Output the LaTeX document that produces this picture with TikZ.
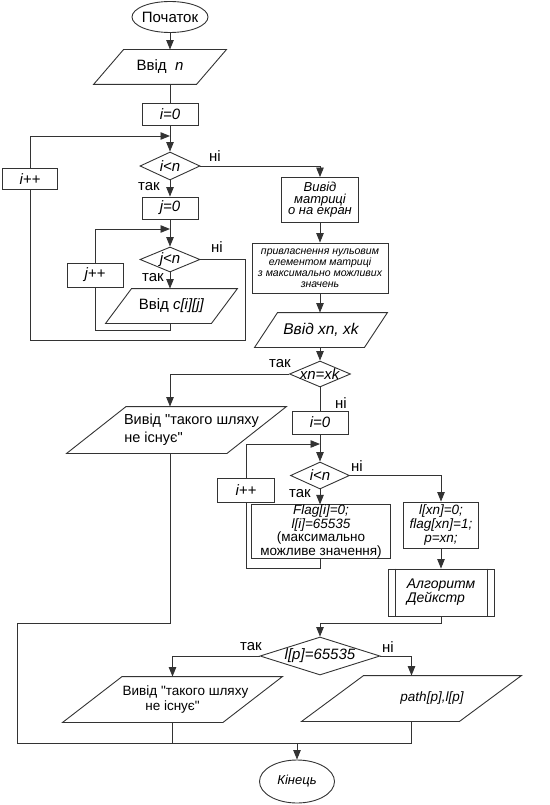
\documentclass[tikz,border=0pt]{standalone}
\usepackage{fontspec}
\setmainfont{Liberation Sans}
\usepackage{tikz}
\usetikzlibrary{arrows.meta, positioning, calc, shapes.geometric}

\newcommand{\ztxt}[1]{\makebox[0pt]{#1}}
\newcommand{\ioframe}[2]{\draw ([xshift=#2]#1.north west) -- (#1.north east) -- ([xshift=-#2]#1.south east) -- (#1.south west) -- cycle;}

\begin{document}
\begin{tikzpicture}[x=1pt, y=-1pt, line width=0.9pt, draw=black!80,
        every node/.style={draw, inner sep=0pt, align=center, font=\fontsize{15}{17}\selectfont},
        term/.style={ellipse},
        box/.style={rectangle},
        io/.style={rectangle, draw=none},
        cond/.style={diamond},
        lbl/.style={draw=none, fill=none},
        arr/.style={-{Triangle[length=9.5pt, width=7.5pt]}}]
        \useasboundingbox (0,0) rectangle (549,805);

        % Define nodes of the first loops
        \node[term, minimum width=76, minimum height=31] (start) at (170,17) {\ztxt{Початок}};
        \node[io, minimum width=132, minimum height=34] (inN) at (160,67) {Ввід~~\textit{n}};
        \ioframe{inN}{30}
        \node[box, minimum width=56, minimum height=22] (iZero) at (170,114) {\textit{i=0}};
        \node[cond, minimum width=60, minimum height=28] (iLess) at (170,166) {\ztxt{\textit{i<n}}};
        \node[box, minimum width=55, minimum height=21] (iInc) at (30,179) {\textit{i++}};
        \node[box, minimum width=56, minimum height=22] (jZero) at (170,208) {\textit{j=0}};
        \node[cond, minimum width=60, minimum height=25] (jLess) at (170,259.5) {\ztxt{\textit{j<n}}};
        \node[box, minimum width=56, minimum height=24] (jInc) at (95,275) {\textit{j++}};
        \node[io, minimum width=131, minimum height=34] (inC) at (171.5,306) {Ввід \textit{c[i][j]}};
        \ioframe{inC}{26}

        % Define nodes on the right side
        \node[box, minimum width=77, minimum height=45, font=\fontsize{13}{11.5}\selectfont\itshape] (outMat) at (320,200) {Вивід\\матриці\\о на екран};
        \node[box, minimum width=136, minimum height=50, font=\fontsize{10.5}{11}\selectfont\itshape] (initMat) at (320,268) {привласнення нульовим\\елементом матриці\\з максимально можливих\\значень};
        \node[io, minimum width=132, minimum height=34, font=\fontsize{15.5}{17}\selectfont\itshape] (inXY) at (321,330) {Ввід xn, xk};
        \ioframe{inXY}{23}
        \node[cond, minimum width=61, minimum height=26] (xyEq) at (320,374) {\ztxt{\textit{xn=xk}}};
        \node[io, minimum width=219, minimum height=46, font=\fontsize{14.5}{18}\selectfont] (noPathA) at (176.5,430) {\hspace*{30pt}Вивід \textquotedbl такого шляху\\не існує\textquotedbl\hspace*{46pt}};
        \ioframe{noPathA}{59.5}
        \node[box, minimum width=56, minimum height=23] (iZeroB) at (320,422.5) {\textit{i=0}};
        \node[cond, minimum width=59, minimum height=27] (iLessB) at (320,475.5) {\ztxt{\textit{i<n}}};
        \node[box, minimum width=57, minimum height=24] (iIncB) at (246,490) {\textit{i++}};
        \node[box, minimum width=139, minimum height=53, font=\fontsize{13.5}{12.5}\selectfont] (initFlag) at (321,531.5) {\textit{Flag[i]=0;}\\\textit{l[i]=65535}\\(максимально\\можливе значення)};
        \node[box, minimum width=75, minimum height=46, font=\fontsize{13.5}{14}\selectfont\itshape] (initStart) at (441,525) {l[xn]=0;\\flag[xn]=1;\\p=xn;};
        \node[box, minimum width=106, minimum height=47, align=left, font=\fontsize{14}{14}\selectfont\itshape] (dijkstra) at (441,592.5) {Алгоритм\\Дейкстр};
        \draw ([xshift=7.5]dijkstra.north west) -- ([xshift=7.5]dijkstra.south west);
        \draw ([xshift=-7.5]dijkstra.north east) -- ([xshift=-7.5]dijkstra.south east);

        % Define nodes at the bottom
        \node[cond, minimum width=120, minimum height=38] (lpEq) at (320,656) {\ztxt{\textit{l[p]=65535}}};
        \node[io, minimum width=219, minimum height=45, font=\fontsize{13.5}{15}\selectfont] (noPathB) at (172.5,699.5) {\hspace*{26pt}Вивід \textquotedbl такого шляху\\не існує\textquotedbl};
        \ioframe{noPathB}{59.5}
        \node[io, minimum width=219, minimum height=45, font=\fontsize{13.5}{15}\selectfont\itshape] (outPath) at (411.5,698.5) {\hspace*{41pt}path[p],l[p]};
        \ioframe{outPath}{62}
        \node[term, minimum width=75, minimum height=43, font=\fontsize{13}{15}\selectfont\itshape] (stop) at (297,781.5) {Кінець};

        % Bend points of the connectors
        \coordinate (iLoop) at (170,136);
        \coordinate (jLoop) at (170,229);
        \coordinate (jExit) at (245,340);
        \coordinate (jBack) at (95,330);
        \coordinate (iLoopB) at (320,444);
        \coordinate (iBackB) at (246,568);
        \coordinate (dijkJoin) at (320,623);
        \coordinate (leftTurn) at (17,623);
        \coordinate (mergeR) at (411.5,743);

        % Draw the first loops
        \draw[arr] (start) -- (inN.north -| start);
        \draw (inN.south -| start) -- (iZero);
        \draw[arr] (iZero) -- (iLess);
        \draw[arr] (iInc.north) |- (iLoop);
        \draw[arr] (iLess) -- (jZero);
        \draw[arr] (jZero) -- (jLess);
        \draw[arr] (jInc.north) |- (jLoop);
        \draw[arr] (jLess) -- (inC.north -| jLess);
        \draw (inC.south -| jLess) |- (jBack) -- (jInc);
        \draw (jLess.east) -| (jExit) -| (iInc.south);

        % Draw the right side
        \draw[arr] (iLess.east) -| (outMat.north);
        \draw[arr] (outMat) -- (initMat);
        \draw[arr] (initMat) -- (inXY.north -| initMat);
        \draw[arr] (inXY.south -| xyEq) -- (xyEq);
        \draw[arr] (xyEq.west) -| (noPathA.north -| start);
        \draw (xyEq) -- (iZeroB);
        \draw[arr] (iZeroB) -- (iLessB);
        \draw[arr] (iIncB.north) |- (iLoopB);
        \draw[arr] (iLessB) -- (initFlag.north -| iLessB);
        \draw (initFlag.south -| iLessB) |- (iBackB) -- (iIncB);
        \draw[arr] (iLessB.east) -| (initStart.north);
        \draw[arr] (initStart) -- (dijkstra);
        \draw[arr] (dijkstra.south) |- (dijkJoin) -- (lpEq.north);

        % Draw the outputs and the end
        \draw[arr] (lpEq.west) -| (noPathB.north);
        \draw[arr] (lpEq.east) -| (outPath.north);
        \draw (noPathA.south -| start) |- (leftTurn) |- (mergeR);
        \draw (noPathB.south) -- (noPathB.south |- mergeR);
        \draw (outPath.south) -- (mergeR);
        \draw[arr] (stop |- mergeR) -- (stop);

        % Labels of the branches
        \node[lbl] (iYes) at (149,187) {так};
        \node[lbl] (iNo) at (215,156) {ні};
        \node[lbl] (jYes) at (153,278) {так};
        \node[lbl] (jNo) at (217,247) {ні};
        \node[lbl] (xyYes) at (280,364) {так};
        \node[lbl] (xyNo) at (341,403) {ні};
        \node[lbl] (iYesB) at (300,494) {так};
        \node[lbl] (iNoB) at (357,466) {ні};
        \node[lbl] (lpYes) at (251,647) {так};
        \node[lbl] (lpNo) at (388,647) {ні};

    \end{tikzpicture}
\end{document}
